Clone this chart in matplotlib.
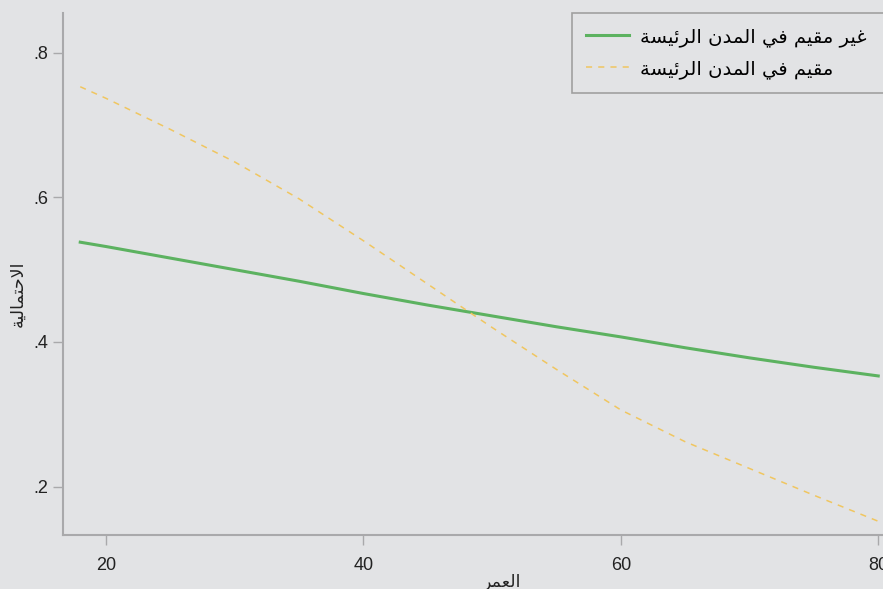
import matplotlib
matplotlib.use('Agg')
import matplotlib.pyplot as plt
from matplotlib.ticker import FuncFormatter

# Predicted probability by age
ages = [18, 20, 25, 30, 35, 40, 45, 50, 55, 60, 65, 70, 75, 80]
p_not_resident = [0.538, 0.532, 0.516, 0.500, 0.484, 0.467, 0.451, 0.436,
                  0.421, 0.407, 0.392, 0.378, 0.365, 0.353]
p_resident = [0.753, 0.737, 0.694, 0.649, 0.598, 0.540, 0.480, 0.420,
              0.362, 0.306, 0.262, 0.225, 0.188, 0.152]

labels = ['غير مقيم في المدن الرئيسة', 'مقيم في المدن الرئيسة']
xlabel = 'العمر'
ylabel = 'الاحتمالية'
xticks = [20, 40, 60, 80]
yticks = [0.2, 0.4, 0.6, 0.8]

# matplotlib has no Arabic shaping, so pick presentation forms by hand
# (isolated, final, initial, medial); two entries = joins only to the right
FORMS = {
    'ا': ('\uFE8D', '\uFE8E'),
    'د': ('\uFEA9', '\uFEAA'),
    'ر': ('\uFEAD', '\uFEAE'),
    'ة': ('\uFE93', '\uFE94'),
    'ل': ('\uFEDD', '\uFEDE', '\uFEDF', '\uFEE0'),
    'ع': ('\uFEC9', '\uFECA', '\uFECB', '\uFECC'),
    'غ': ('\uFECD', '\uFECE', '\uFECF', '\uFED0'),
    'م': ('\uFEE1', '\uFEE2', '\uFEE3', '\uFEE4'),
    'ي': ('\uFEF1', '\uFEF2', '\uFEF3', '\uFEF4'),
    'ق': ('\uFED5', '\uFED6', '\uFED7', '\uFED8'),
    'ف': ('\uFED1', '\uFED2', '\uFED3', '\uFED4'),
    'ن': ('\uFEE5', '\uFEE6', '\uFEE7', '\uFEE8'),
    'ئ': ('\uFE89', '\uFE8A', '\uFE8B', '\uFE8C'),
    'س': ('\uFEB1', '\uFEB2', '\uFEB3', '\uFEB4'),
    'ح': ('\uFEA1', '\uFEA2', '\uFEA3', '\uFEA4'),
    'ت': ('\uFE95', '\uFE96', '\uFE97', '\uFE98'),
}


def shape(text):
    def dual(c):
        return c in FORMS and len(FORMS[c]) == 4
    out = []
    i = 0
    while i < len(text):
        c = text[i]
        prev = text[i - 1] if i > 0 else ''
        nxt = text[i + 1] if i + 1 < len(text) else ''
        if c not in FORMS:
            out.append(c)
        elif c == 'ل' and nxt == 'ا':
            out.append('\uFEFC' if dual(prev) else '\uFEFB')
            i += 1
        else:
            jp = dual(prev)
            jn = dual(c) and nxt in FORMS
            f = FORMS[c]
            if jp and jn:
                out.append(f[3])
            elif jp:
                out.append(f[1])
            elif jn:
                out.append(f[2])
            else:
                out.append(f[0])
        i += 1
    return ''.join(reversed(out))


BG = '#e2e3e5'
GREEN = '#5cb260'
ORANGE = '#f0c660'
SPINE = '#a9a9ab'
AR = 'DejaVu Sans'

plt.rcParams['font.family'] = ['Liberation Sans', 'DejaVu Sans']

fig = plt.figure(figsize=(8.83, 5.89), dpi=100, facecolor=BG)
ax = fig.add_axes([63 / 883, 54 / 589, 820 / 883, 522 / 589], facecolor=BG)

ax.plot(ages, p_not_resident, color=GREEN, lw=2.2, label=shape(labels[0]))
ax.plot(ages, p_resident, color=ORANGE, lw=1.1, linestyle=(0, (4, 4)),
        label=shape(labels[1]))

ax.set_xlim(16.66, 80.37)
ax.set_ylim(0.133, 0.855)
ax.set_xticks(xticks)
ax.set_yticks(yticks)
ax.yaxis.set_major_formatter(FuncFormatter(lambda v, p: f'{v:.1f}'.lstrip('0')))

for s in ['top', 'right']:
    ax.spines[s].set_visible(False)
for s in ['left', 'bottom']:
    ax.spines[s].set_color(SPINE)
    ax.spines[s].set_linewidth(1.5)
ax.tick_params(axis='both', direction='out', length=7.5, width=1, color=SPINE,
               labelsize=13, labelcolor='#222222', pad=3)
ax.tick_params(axis='x', pad=8)

ax.set_xlabel(shape(xlabel), family=AR, fontsize=12.5, color='#222222')
ax.xaxis.set_label_coords(0.535, -0.072)
fig.text(17 / 883, 1 - 294 / 589, shape(ylabel), family=AR, fontsize=12.5,
         color='#222222', rotation=90, ha='center', va='center')

leg = ax.legend(loc='upper left', bbox_to_anchor=(0.6207, 0.0, 0.45, 1.0),
                mode='expand', borderaxespad=0,
                prop={'family': AR, 'size': 14}, frameon=True, fancybox=False,
                facecolor=BG, edgecolor='#a0a0a0', framealpha=1,
                handlelength=2.2, handletextpad=0.6, labelspacing=0.65,
                borderpad=0.72)
leg.get_frame().set_linewidth(1.2)

fig.savefig('out.png', dpi=100, facecolor=BG)
